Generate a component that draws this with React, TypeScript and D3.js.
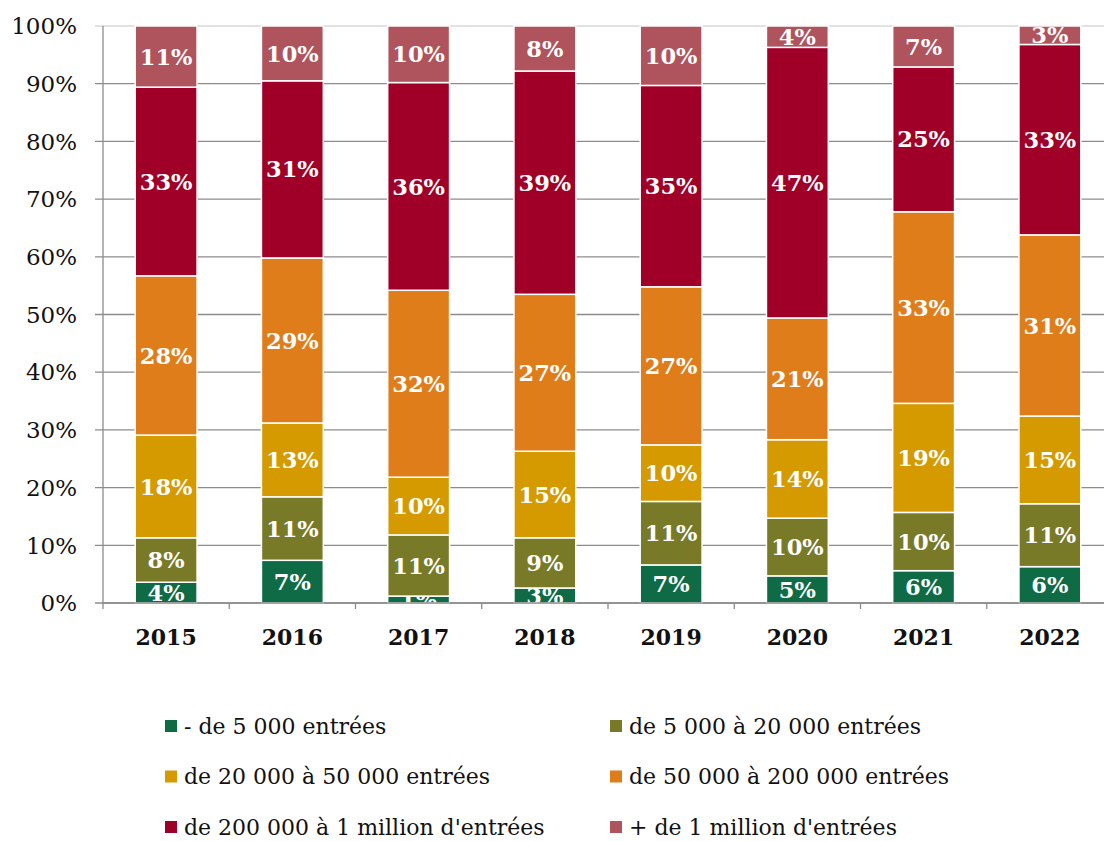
import * as d3 from "d3";
import { useEffect, useRef } from "react";

// categories
const years = ["2015", "2016", "2017", "2018", "2019", "2020", "2021", "2022"];

// share of films (%) by number of admissions
const under5k = [3.6, 7.4, 1.2, 2.6, 6.6, 4.7, 5.6, 6.3];
const from5kTo20k = [7.7, 11.0, 10.6, 8.7, 11.0, 10.0, 10.1, 10.9];
const from20kTo50k = [17.8, 12.8, 10.0, 15.0, 9.8, 13.6, 18.9, 15.2];
const from50kTo200k = [27.6, 28.6, 32.4, 27.2, 27.4, 21.1, 33.2, 31.4];
const from200kTo1m = [32.7, 30.7, 36.0, 38.7, 34.9, 46.9, 25.1, 33.0];
const over1m = [10.6, 9.5, 9.8, 7.8, 10.3, 3.7, 7.1, 3.2];

const seriesNames = [
  "- de 5 000 entrées",
  "de 5 000 à 20 000 entrées",
  "de 20 000 à 50 000 entrées",
  "de 50 000 à 200 000 entrées",
  "de 200 000 à 1 million d'entrées",
  "+ de 1 million d'entrées",
];
const seriesValues = [under5k, from5kTo20k, from20kTo50k, from50kTo200k, from200kTo1m, over1m];
const seriesColors = ["#0e6b45", "#787a28", "#d49a00", "#e07d1b", "#a00028", "#af535c"];

const yTicks = [0, 10, 20, 30, 40, 50, 60, 70, 80, 90, 100];

const StackedChart: React.FC = () => {
  const ref = useRef<SVGSVGElement | null>(null);

  useEffect(() => {
    document.body.style.margin = "0";
    const svg = d3.select(ref.current);
    svg.selectAll("*").remove();

    const width = 1104;
    const height = 841;
    svg.attr("width", width).attr("height", height);

    const left = 103;
    const right = 1113;
    const top = 26;
    const bottom = 603;
    const serif = "'DejaVu Serif', serif";

    const rows = years.map((year, i) => {
      const row: Record<string, any> = { year };
      seriesNames.forEach((name, k) => (row[name] = seriesValues[k][i]));
      return row;
    });
    const stacked = d3.stack<Record<string, any>>().keys(seriesNames)(rows);

    const x = d3.scaleBand().domain(years).range([left, right]).paddingInner(0.51).paddingOuter(0.255);
    const y = d3.scaleLinear().domain([0, 100]).range([bottom, top]);

    // gridlines + y tick marks
    svg
      .append("g")
      .selectAll("line")
      .data(yTicks)
      .enter()
      .append("line")
      .attr("x1", left - 8)
      .attr("x2", right)
      .attr("y1", (d) => y(d))
      .attr("y2", (d) => y(d))
      .attr("stroke", (d) => (d === 100 ? "#d9d9d9" : "#8c8c8c"))
      .attr("stroke-width", 1.3);

    // axis lines
    svg
      .append("line")
      .attr("x1", left)
      .attr("x2", left)
      .attr("y1", top)
      .attr("y2", bottom + 6)
      .attr("stroke", "#8c8c8c")
      .attr("stroke-width", 1.3);

    const bandStep = x.step();
    svg
      .append("g")
      .selectAll("line")
      .data(years.slice(1))
      .enter()
      .append("line")
      .attr("x1", (d) => (x(d) ?? 0) - (bandStep - x.bandwidth()) / 2)
      .attr("x2", (d) => (x(d) ?? 0) - (bandStep - x.bandwidth()) / 2)
      .attr("y1", bottom)
      .attr("y2", bottom + 6)
      .attr("stroke", "#8c8c8c")
      .attr("stroke-width", 1.3);

    // bars
    const layers = svg
      .append("g")
      .selectAll("g")
      .data(stacked)
      .enter()
      .append("g")
      .attr("fill", (_, i) => seriesColors[i]);

    layers
      .selectAll("rect")
      .data((d) => d)
      .enter()
      .append("rect")
      .attr("x", (d) => x(d.data.year) ?? 0)
      .attr("y", (d) => y(d[1]))
      .attr("width", x.bandwidth())
      .attr("height", (d) => y(d[0]) - y(d[1]))
      .attr("stroke", "#ffffff")
      .attr("stroke-width", 1.5);

    // x axis baseline drawn over bar bottoms
    svg
      .append("line")
      .attr("x1", left)
      .attr("x2", right)
      .attr("y1", bottom)
      .attr("y2", bottom)
      .attr("stroke", "#8c8c8c")
      .attr("stroke-width", 1.3);

    // value labels
    layers
      .selectAll("text")
      .data((d) => d)
      .enter()
      .append("text")
      .attr("x", (d) => (x(d.data.year) ?? 0) + x.bandwidth() / 2)
      .attr("y", (d) => (y(d[0]) + y(d[1])) / 2)
      .attr("dy", "0.36em")
      .attr("text-anchor", "middle")
      .style("font-family", serif)
      .style("font-size", "22.5px")
      .style("font-weight", "bold")
      .style("fill", "#ffffff")
      .text((d) => `${Math.round(d[1] - d[0])}%`);

    // y tick labels
    svg
      .append("g")
      .selectAll("text")
      .data(yTicks)
      .enter()
      .append("text")
      .attr("x", 77)
      .attr("y", (d) => y(d))
      .attr("dy", "0.36em")
      .attr("text-anchor", "end")
      .style("font-family", serif)
      .style("font-size", "23px")
      .style("fill", "#111")
      .text((d) => `${d}%`);

    // x labels
    svg
      .append("g")
      .selectAll("text")
      .data(years)
      .enter()
      .append("text")
      .attr("x", (d) => (x(d) ?? 0) + x.bandwidth() / 2)
      .attr("y", 645)
      .attr("text-anchor", "middle")
      .style("font-family", serif)
      .style("font-size", "22px")
      .style("font-weight", "bold")
      .style("fill", "#111")
      .text((d) => d);

    // legend, 2 columns x 3 rows
    const legend = svg
      .append("g")
      .selectAll("g")
      .data(seriesNames)
      .enter()
      .append("g")
      .attr("transform", (_, i) => `translate(${i % 2 === 0 ? 165 : 610}, ${726 + Math.floor(i / 2) * 50.5})`);

    legend
      .append("rect")
      .attr("x", 0)
      .attr("y", -6)
      .attr("width", 12)
      .attr("height", 12)
      .attr("fill", (_, i) => seriesColors[i]);

    legend
      .append("text")
      .attr("x", 19)
      .attr("y", 0)
      .attr("dy", "0.36em")
      .style("font-family", serif)
      .style("font-size", "22px")
      .style("fill", "#111")
      .text((d) => d);
  }, []);

  return <svg ref={ref}></svg>;
};

export default function App() {
  return <StackedChart />;
}
